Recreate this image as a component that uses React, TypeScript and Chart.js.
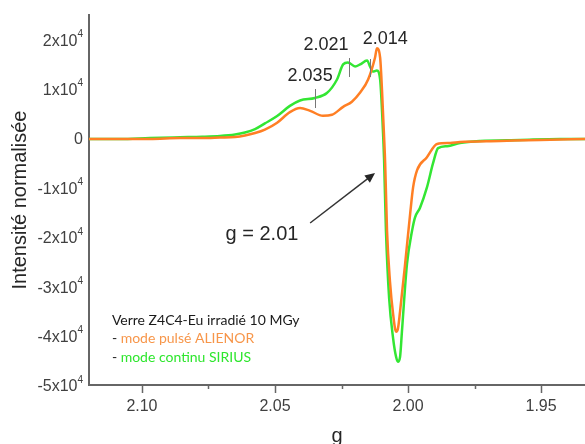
import React, { useEffect, useRef } from 'react';
import { Chart, registerables } from 'chart.js';
Chart.register(...registerables);

// ---- data (g factor vs normalised intensity) ----
const gGreen = [2.1199, 2.1083, 2.0970, 2.0857, 2.0774, 2.0707, 2.0650, 2.0613, 2.0575, 2.0538, 2.0492, 2.0444, 2.0406, 2.0350, 2.0305, 2.0267, 2.0244, 2.0226, 2.0199, 2.0180, 2.0154, 2.0143, 2.0132, 2.0117, 2.0105, 2.0094, 2.0090, 2.0083, 2.0071, 2.0056, 2.0045, 2.0038, 2.0030, 2.0023, 2.0004, 1.9985, 1.9974, 1.9955, 1.9929, 1.9906, 1.9887, 1.9853, 1.9805, 1.9729, 1.9579, 1.9429, 1.9335];
const iGreen = [-200, -200, 0, 150, 250, 400, 700, 1100, 1800, 2950, 4450, 6500, 7600, 8100, 9100, 11850, 14900, 15300, 14500, 14900, 15700, 14500, 13450, 13650, 11850, 1000, -4500, -18800, -32450, -40600, -44300, -45300, -44300, -39200, -25500, -18800, -16100, -14100, -10000, -5100, -2050, -1650, -1000, -600, -400, -200, -200];

const gOrange = [2.1199, 2.1083, 2.0970, 2.0857, 2.0774, 2.0707, 2.0650, 2.0613, 2.0575, 2.0538, 2.0492, 2.0444, 2.0406, 2.0368, 2.0320, 2.0286, 2.0244, 2.0211, 2.0180, 2.0150, 2.0124, 2.0117, 2.0105, 2.0098, 2.0090, 2.0086, 2.0079, 2.0068, 2.0056, 2.0045, 2.0038, 2.0030, 2.0011, 1.9992, 1.9981, 1.9966, 1.9929, 1.9891, 1.9842, 1.9805, 1.9654, 1.9504, 1.9335];
const iOrange = [-200, -200, -200, 0, 0, 100, 200, 500, 1000, 1700, 3100, 5250, 6070, 5500, 4500, 4700, 6300, 7350, 9200, 11850, 16300, 18150, 16300, 9800, 200, -5100, -18800, -29000, -35700, -39200, -38600, -35100, -25500, -15300, -10000, -6500, -3900, -1200, -1000, -800, -600, -400, -200];

const yTickValues = [20000, 10000, 0, -10000, -20000, -30000, -40000, -50000];

// peak annotations
const peakLabels = ['2.035', '2.021', '2.014'];
const peakLabelG = [2.0368, 2.0308, 2.0086];
const peakLabelI = [12550, 18820, 20040];
const peakMarkG = [2.0350, 2.0222, 2.0143];
const peakMarkTop = [9920, 16190, 15990];
const peakMarkBottom = [6070, 12350, 12350];

const arrowText = 'g = 2.01';
const arrowTextPos = [2.0549, -19630];
const arrowFrom = [2.0368, -17200];
const arrowTo = [2.0124, -7080];

const legendTitle = 'Verre Z4C4-Eu irradié 10 MGy';
const legendSeries = ['mode pulsé ALIENOR', 'mode continu SIRIUS'];
const legendG = 2.1113;
const legendI = [-36840, -40680, -44530];

const ORANGE = '#ff7f24';
const GREEN = '#33e633';
const ORANGE_TXT = '#f7964a';
const GREEN_TXT = '#2ee62e';
const AXIS = '#666666';
const TXT = '#404040';
const SANS = '"Liberation Sans", Arial, sans-serif';

const overlay = {
  id: 'overlay',
  afterDraw(chart: any) {
    const { ctx } = chart;
    const x = chart.scales.x;
    const y = chart.scales.y;
    ctx.save();

    // y tick labels with superscript exponent
    ctx.fillStyle = TXT;
    ctx.textBaseline = 'middle';
    ctx.textAlign = 'right';
    const right = y.right - 6;
    yTickValues.forEach((v) => {
      const py = y.getPixelForValue(v) + 2;
      if (v === 0) {
        ctx.font = `16px ${SANS}`;
        ctx.fillText('0', right, py);
      } else {
        ctx.font = `10px ${SANS}`;
        const sw = ctx.measureText('4').width;
        ctx.fillText('4', right, py - 7);
        ctx.font = `16px ${SANS}`;
        ctx.fillText(`${v / 10000}x10`, right - sw, py);
      }
    });

    // x tick marks (major / minor)
    ctx.strokeStyle = AXIS;
    ctx.lineWidth = 1.5;
    x.ticks.forEach((t: any) => {
      const major = Math.abs(t.value * 20 - Math.round(t.value * 20)) < 1e-6;
      const px = Math.round(x.getPixelForValue(t.value)) + 0.5;
      ctx.beginPath();
      ctx.moveTo(px, chart.chartArea.bottom);
      ctx.lineTo(px, chart.chartArea.bottom + (major ? 8 : 4));
      ctx.stroke();
    });

    // peak markers
    ctx.strokeStyle = '#777777';
    ctx.lineWidth = 1;
    peakMarkG.forEach((g, i) => {
      const px = Math.round(x.getPixelForValue(g)) + 0.5;
      ctx.beginPath();
      ctx.moveTo(px, y.getPixelForValue(peakMarkTop[i]));
      ctx.lineTo(px, y.getPixelForValue(peakMarkBottom[i]));
      ctx.stroke();
    });
    ctx.fillStyle = '#262626';
    ctx.font = `18px ${SANS}`;
    ctx.textAlign = 'center';
    ctx.textBaseline = 'middle';
    peakLabels.forEach((s, i) => {
      ctx.fillText(s, x.getPixelForValue(peakLabelG[i]), y.getPixelForValue(peakLabelI[i]));
    });

    // arrow and label
    ctx.font = `20px ${SANS}`;
    ctx.fillText(arrowText, x.getPixelForValue(arrowTextPos[0]), y.getPixelForValue(arrowTextPos[1]));
    const x0 = x.getPixelForValue(arrowFrom[0]);
    const y0 = y.getPixelForValue(arrowFrom[1]);
    const x1 = x.getPixelForValue(arrowTo[0]);
    const y1 = y.getPixelForValue(arrowTo[1]);
    const ang = Math.atan2(y1 - y0, x1 - x0);
    const hl = 10;
    ctx.strokeStyle = '#333333';
    ctx.lineWidth = 1.5;
    ctx.beginPath();
    ctx.moveTo(x0, y0);
    ctx.lineTo(x1 - Math.cos(ang) * hl * 0.8, y1 - Math.sin(ang) * hl * 0.8);
    ctx.stroke();
    ctx.fillStyle = '#262626';
    ctx.beginPath();
    ctx.moveTo(x1, y1);
    ctx.lineTo(x1 - hl * Math.cos(ang) + 4.5 * Math.sin(ang), y1 - hl * Math.sin(ang) - 4.5 * Math.cos(ang));
    ctx.lineTo(x1 - hl * Math.cos(ang) - 4.5 * Math.sin(ang), y1 - hl * Math.sin(ang) + 4.5 * Math.cos(ang));
    ctx.closePath();
    ctx.fill();

    // legend text block
    const lx = x.getPixelForValue(legendG);
    ctx.textAlign = 'left';
    ctx.textBaseline = 'middle';
    ctx.font = `14px Lato, "Open Sans", sans-serif`;
    ctx.fillStyle = '#1a1a1a';
    ctx.fillText(legendTitle, lx, y.getPixelForValue(legendI[0]));
    const cols = [ORANGE_TXT, GREEN_TXT];
    legendSeries.forEach((s, i) => {
      const py = y.getPixelForValue(legendI[i + 1]);
      ctx.fillStyle = '#1a1a1a';
      ctx.fillText('- ', lx, py);
      const w = ctx.measureText('- ').width;
      ctx.fillStyle = cols[i];
      ctx.fillText(s, lx + w, py);
    });

    ctx.restore();
  },
};

export default function App() {
  const ref = useRef<HTMLCanvasElement>(null);
  useEffect(() => {
    document.body.style.margin = '0';
    const toPts = (gs: number[], is: number[]) => gs.map((g, i) => ({ x: g, y: is[i] }));
    const chart = new Chart(ref.current!, {
      type: 'line',
      data: {
        datasets: [
          {
            label: 'mode pulsé ALIENOR',
            data: toPts(gOrange, iOrange),
            borderColor: ORANGE,
            borderWidth: 2.5,
            pointRadius: 0,
            cubicInterpolationMode: 'monotone',
            fill: false,
          },
          {
            label: 'mode continu SIRIUS',
            data: toPts(gGreen, iGreen),
            borderColor: GREEN,
            borderWidth: 2.5,
            pointRadius: 0,
            cubicInterpolationMode: 'monotone',
            fill: false,
          },
        ],
      },
      options: {
        responsive: false,
        animation: false,
        layout: { padding: { top: 15, left: 0, right: 0, bottom: 0 } },
        plugins: { legend: { display: false }, tooltip: { enabled: false } },
        scales: {
          x: {
            type: 'linear',
            reverse: true,
            min: 1.9335,
            max: 2.1199,
            afterFit: (s: any) => { s.height = 59; },
            grid: { display: false, drawTicks: true, tickLength: 8 },
            border: { display: true, color: AXIS, width: 2 },
            ticks: {
              stepSize: 0.025,
              includeBounds: false,
              autoSkip: false,
              maxRotation: 0,
              padding: 4,
              color: TXT,
              font: { family: SANS, size: 16 },
              callback: (v: any) => {
                const n = Number(v);
                return Math.abs(n * 20 - Math.round(n * 20)) < 1e-6 ? n.toFixed(2) : '';
              },
            },
            title: {
              display: true,
              text: 'g',
              color: '#262626',
              font: { family: SANS, size: 20, lineHeight: 0.75 },
              padding: { top: 0, bottom: 0 },
            },
          },
          y: {
            type: 'linear',
            min: -50000,
            max: 24900,
            afterFit: (s: any) => { s.width = 89; },
            grid: { display: false, drawTicks: false },
            border: { display: true, color: AXIS, width: 2 },
            ticks: { display: false, stepSize: 10000, includeBounds: false },
            title: {
              display: true,
              text: 'Intensité normalisée',
              color: '#262626',
              font: { family: SANS, size: 20, lineHeight: 1.2 },
              padding: { top: 8, bottom: 0 },
            },
          },
        },
      },
      plugins: [overlay],
    });
    return () => chart.destroy();
  }, []);
  return <canvas ref={ref} width={585} height={444} style={{ display: 'block' }} />;
}
